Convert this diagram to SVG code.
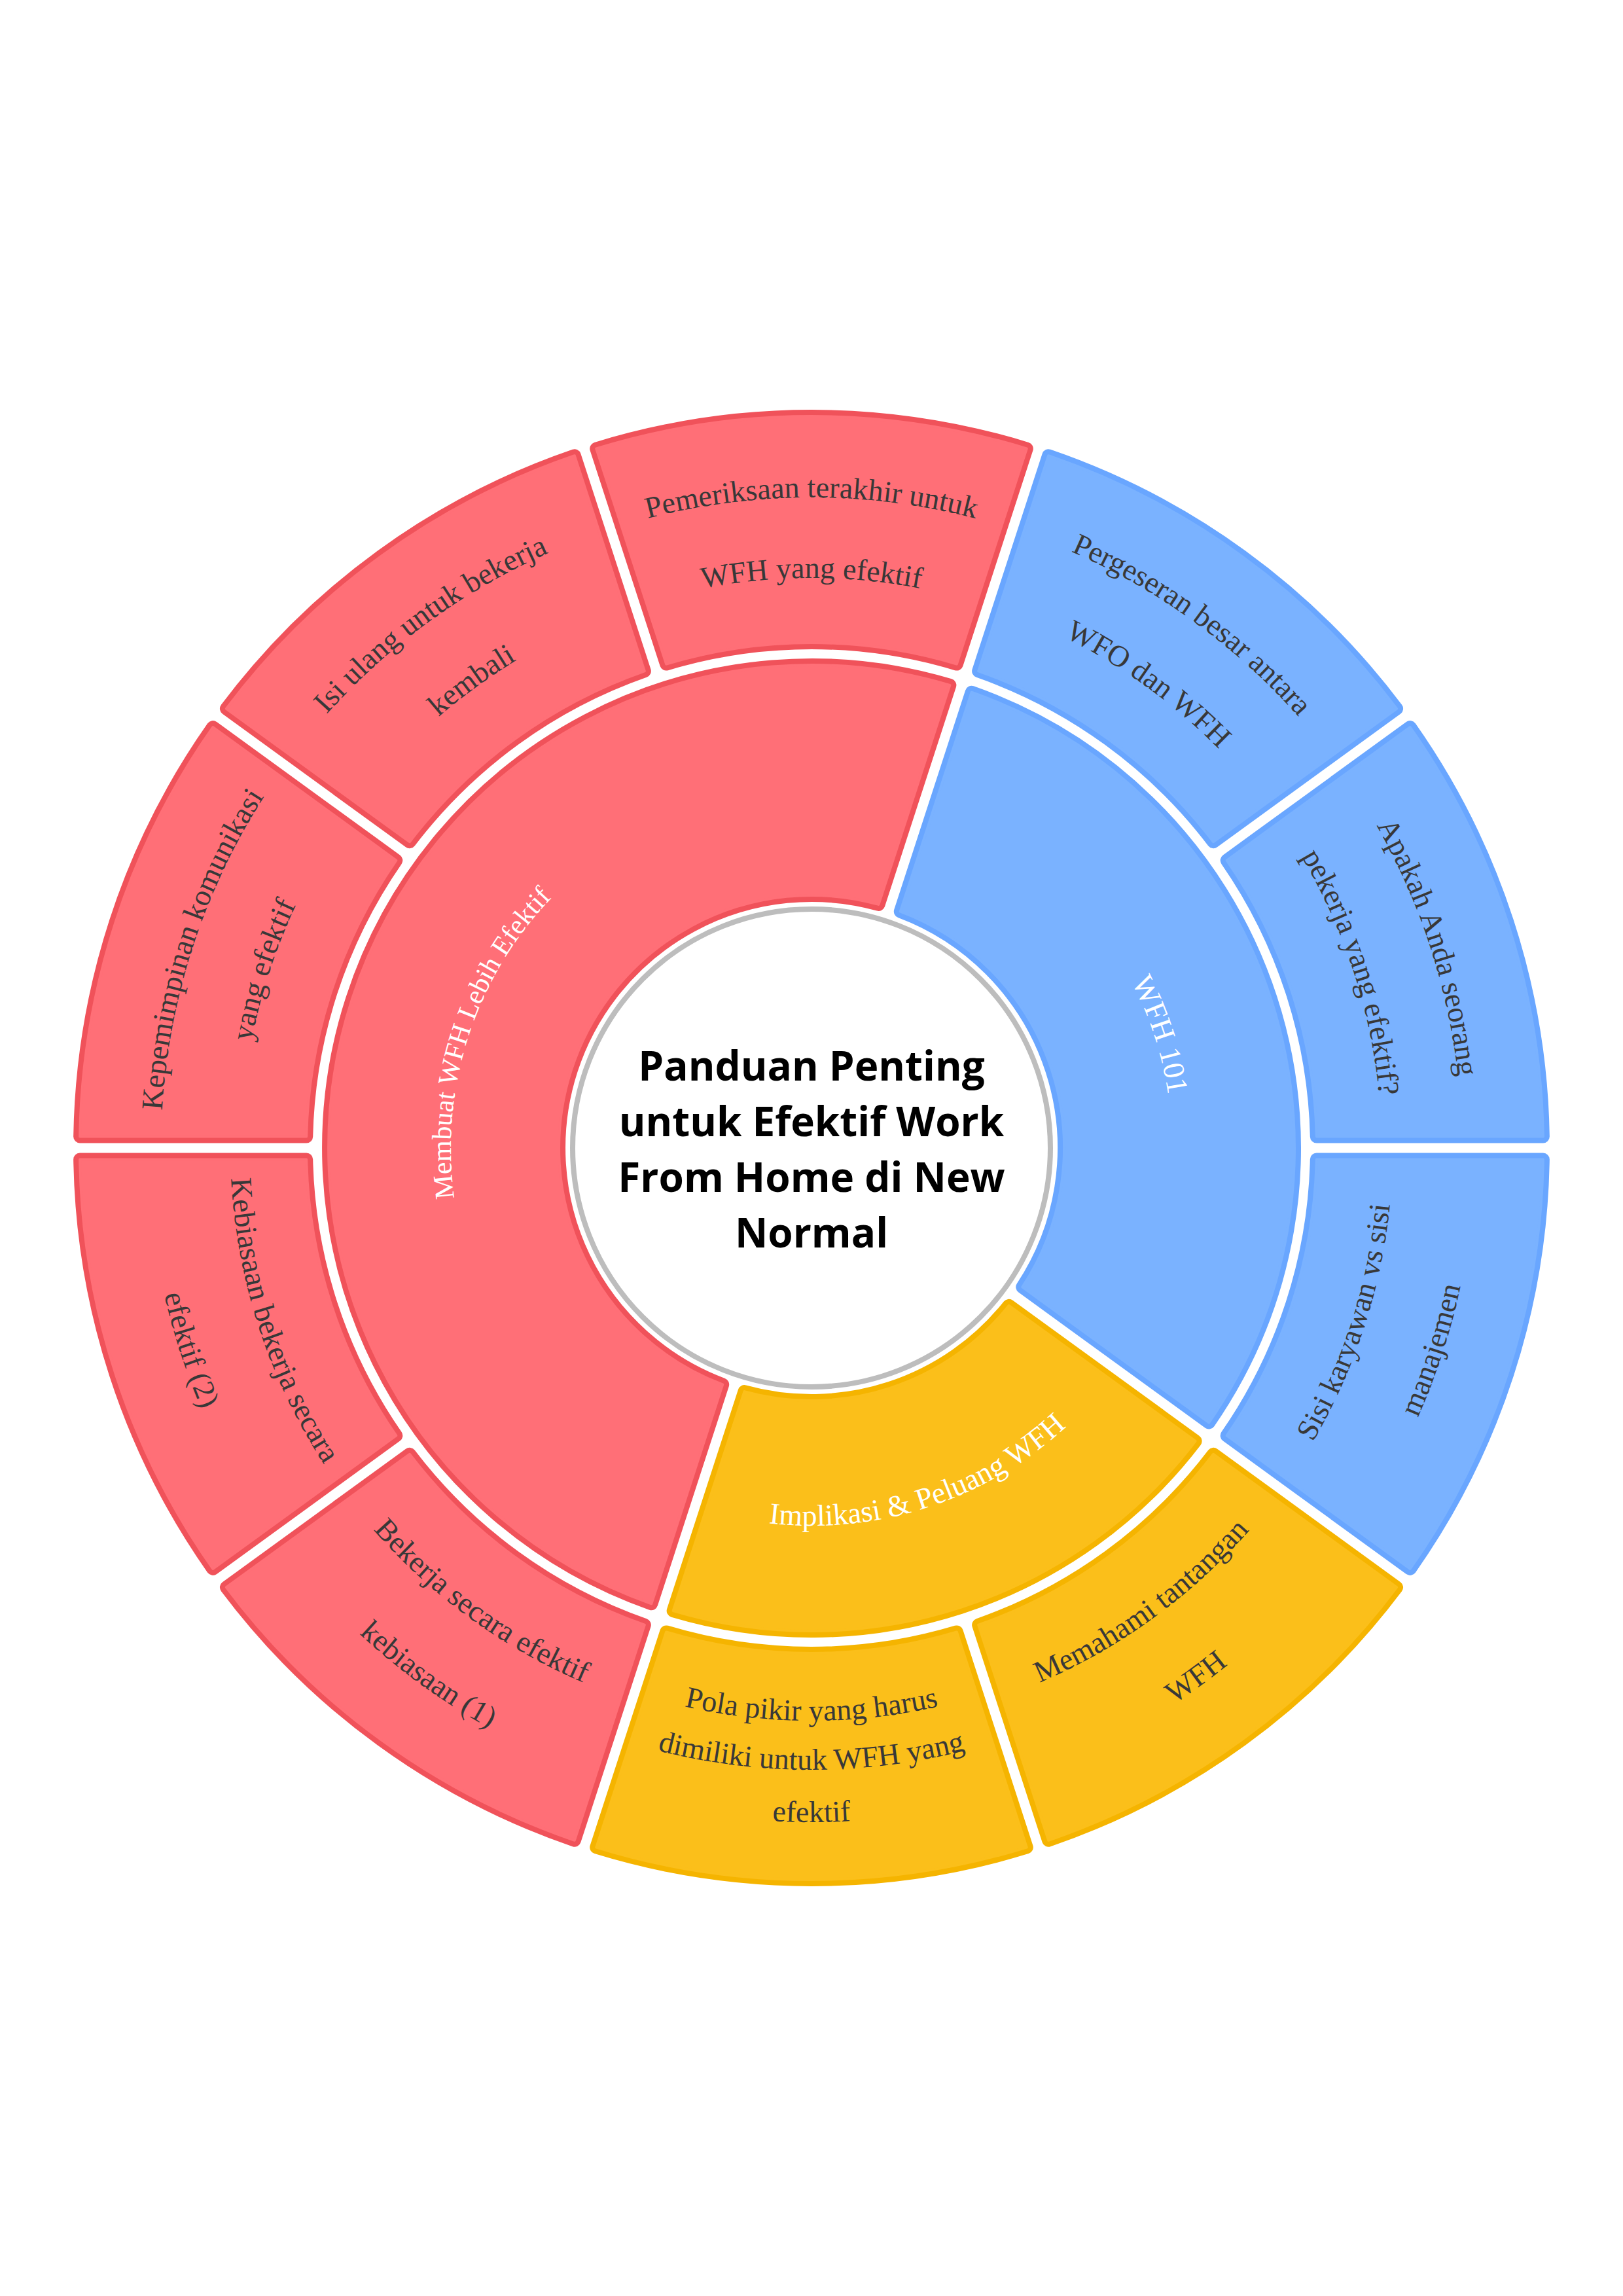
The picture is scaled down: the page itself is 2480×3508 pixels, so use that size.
<svg xmlns="http://www.w3.org/2000/svg" width="2480" height="3508" viewBox="0 0 2480 3508">
<style>
.r1{fill:#F0525A;stroke:#F0525A;stroke-width:20;stroke-linejoin:round}
.r2{fill:#FF6F77;stroke:#FF6F77;stroke-width:4;stroke-linejoin:round}
.b1{fill:#69A6FF;stroke:#69A6FF;stroke-width:20;stroke-linejoin:round}
.b2{fill:#7AB2FF;stroke:#7AB2FF;stroke-width:4;stroke-linejoin:round}
.y1{fill:#F5B400;stroke:#F5B400;stroke-width:20;stroke-linejoin:round}
.y2{fill:#FBBF1A;stroke:#FBBF1A;stroke-width:4;stroke-linejoin:round}
.lbl{font-family:"Liberation Serif","Times New Roman",serif;font-size:46px;fill:#383838;text-anchor:middle}
.inl{font-family:"Liberation Serif","Times New Roman",serif;font-size:46px;fill:#FFFFFF;text-anchor:middle}
.title{font-family:"Open Sans","Noto Sans",sans-serif;font-weight:700;font-size:62px;fill:#000000;text-anchor:middle}
</style>
<defs>
<path id="segOuter" d="M 2308.55 1425.21 A 1118 1118 0 0 1 2308.55 2082.79 L 1979.44 1975.86 A 772 772 0 0 0 1979.44 1532.14 Z"/>
<path id="segRed" d="M 1257.50 1016.21 A 738 738 0 0 1 1257.50 2491.79 L 1257.50 2139.60 A 386 386 0 0 0 1257.50 1368.40 Z"/>
<path id="segBlue" d="M 1687.83 1167.40 A 738 738 0 0 1 1687.83 2340.60 L 1480.81 2055.67 A 386 386 0 0 0 1480.81 1452.33 Z"/>
<path id="segYellow" d="M 1847.17 1334.50 A 738 738 0 0 1 1847.17 2173.50 L 1562.25 1966.49 A 386 386 0 0 0 1562.25 1541.51 Z"/>
<path id="nf994" d="M 2001.44 1115.07 A 994 994 0 0 1 2001.44 2392.93"/>
<path id="nf871" d="M 1907.22 1194.13 A 871 871 0 0 1 1907.22 2313.87"/>
<path id="f888" d="M 1920.24 2324.80 A 888 888 0 0 0 1920.24 1183.20"/>
<path id="f1014" d="M 2016.76 2405.79 A 1014 1014 0 0 0 2016.76 1102.21"/>
<path id="f875" d="M 1910.29 2316.44 A 875 875 0 0 0 1910.29 1191.56"/>
<path id="f950" d="M 1967.74 2364.65 A 950 950 0 0 0 1967.74 1143.35"/>
<path id="f1030" d="M 2029.02 2416.07 A 1030 1030 0 0 0 2029.02 1091.93"/>
<path id="nf551" d="M 1662.09 1399.82 A 551 551 0 0 1 1662.09 2108.18"/>
<path id="f577" d="M 1682.00 2124.89 A 577 577 0 0 0 1682.00 1383.11"/>
</defs>
<rect width="2480" height="3508" fill="#FFFFFF"/>
<g id="connectors"></g>

<g id="node-membuat" transform="rotate(198 1240 1754)">
<use href="#segRed" class="r1"/><use href="#segRed" class="r2"/>
<text class="inl" style="font-size:42px"><textPath href="#nf551" startOffset="50%">Membuat WFH Lebih Efektif</textPath></text>
</g>
<g id="node-wfh101" transform="rotate(-18 1240 1754)">
<use href="#segBlue" class="b1"/><use href="#segBlue" class="b2"/>
<text class="inl"><textPath href="#nf551" startOffset="50%">WFH 101</textPath></text>
</g>
<g id="node-implikasi" transform="rotate(72 1240 1754)">
<use href="#segYellow" class="y1"/><use href="#segYellow" class="y2"/>
<text class="inl"><textPath href="#f577" startOffset="50%">Implikasi &amp; Peluang WFH</textPath></text>
</g>

<g id="node-pemeriksaan" transform="rotate(270 1240 1754)">
<use href="#segOuter" class="r1"/><use href="#segOuter" class="r2"/>
<text class="lbl"><textPath href="#nf994" startOffset="50%">Pemeriksaan terakhir untuk</textPath></text>
<text class="lbl"><textPath href="#nf871" startOffset="50%">WFH yang efektif</textPath></text>
</g>
<g id="node-isiulang" transform="rotate(234 1240 1754)">
<use href="#segOuter" class="r1"/><use href="#segOuter" class="r2"/>
<text class="lbl"><textPath href="#nf994" startOffset="50%">Isi ulang untuk bekerja</textPath></text>
<text class="lbl"><textPath href="#nf871" startOffset="50%">kembali</textPath></text>
</g>
<g id="node-kepemimpinan" transform="rotate(198 1240 1754)">
<use href="#segOuter" class="r1"/><use href="#segOuter" class="r2"/>
<text class="lbl"><textPath href="#nf994" startOffset="50%">Kepemimpinan komunikasi</textPath></text>
<text class="lbl"><textPath href="#nf871" startOffset="50%">yang efektif</textPath></text>
</g>
<g id="node-kebiasaan2" transform="rotate(162 1240 1754)">
<use href="#segOuter" class="r1"/><use href="#segOuter" class="r2"/>
<text class="lbl"><textPath href="#f888" startOffset="50%">Kebiasaan bekerja secara</textPath></text>
<text class="lbl"><textPath href="#f1014" startOffset="50%">efektif (2)</textPath></text>
</g>
<g id="node-bekerja1" transform="rotate(126 1240 1754)">
<use href="#segOuter" class="r1"/><use href="#segOuter" class="r2"/>
<text class="lbl"><textPath href="#f888" startOffset="50%">Bekerja secara efektif</textPath></text>
<text class="lbl"><textPath href="#f1014" startOffset="50%">kebiasaan (1)</textPath></text>
</g>
<g id="node-polapikir" transform="rotate(90 1240 1754)">
<use href="#segOuter" class="y1"/><use href="#segOuter" class="y2"/>
<text class="lbl"><textPath href="#f875" startOffset="50%">Pola pikir yang harus</textPath></text>
<text class="lbl"><textPath href="#f950" startOffset="50%">dimiliki untuk WFH yang</textPath></text>
<text class="lbl"><textPath href="#f1030" startOffset="50%">efektif</textPath></text>
</g>
<g id="node-memahami" transform="rotate(54 1240 1754)">
<use href="#segOuter" class="y1"/><use href="#segOuter" class="y2"/>
<text class="lbl"><textPath href="#f888" startOffset="50%">Memahami tantangan</textPath></text>
<text class="lbl"><textPath href="#f1014" startOffset="50%">WFH</textPath></text>
</g>
<g id="node-sisi" transform="rotate(18 1240 1754)">
<use href="#segOuter" class="b1"/><use href="#segOuter" class="b2"/>
<text class="lbl"><textPath href="#f888" startOffset="50%">Sisi karyawan vs sisi</textPath></text>
<text class="lbl"><textPath href="#f1014" startOffset="50%">manajemen</textPath></text>
</g>
<g id="node-apakah" transform="rotate(-18 1240 1754)">
<use href="#segOuter" class="b1"/><use href="#segOuter" class="b2"/>
<text class="lbl"><textPath href="#nf994" startOffset="50%">Apakah Anda seorang</textPath></text>
<text class="lbl"><textPath href="#nf871" startOffset="50%">pekerja yang efektif?</textPath></text>
</g>
<g id="node-pergeseran" transform="rotate(-54 1240 1754)">
<use href="#segOuter" class="b1"/><use href="#segOuter" class="b2"/>
<text class="lbl"><textPath href="#nf994" startOffset="50%">Pergeseran besar antara</textPath></text>
<text class="lbl"><textPath href="#nf871" startOffset="50%">WFO dan WFH</textPath></text>
</g>

<g id="node-center">
<circle cx="1240" cy="1754" r="365" fill="#FFFFFF" stroke="#BDBDBD" stroke-width="8"/>
<text class="title" x="1240" y="1651">Panduan Penting</text>
<text class="title" x="1240" y="1736">untuk Efektif Work</text>
<text class="title" x="1240" y="1821">From Home di New</text>
<text class="title" x="1240" y="1906">Normal</text>
</g>
</svg>
